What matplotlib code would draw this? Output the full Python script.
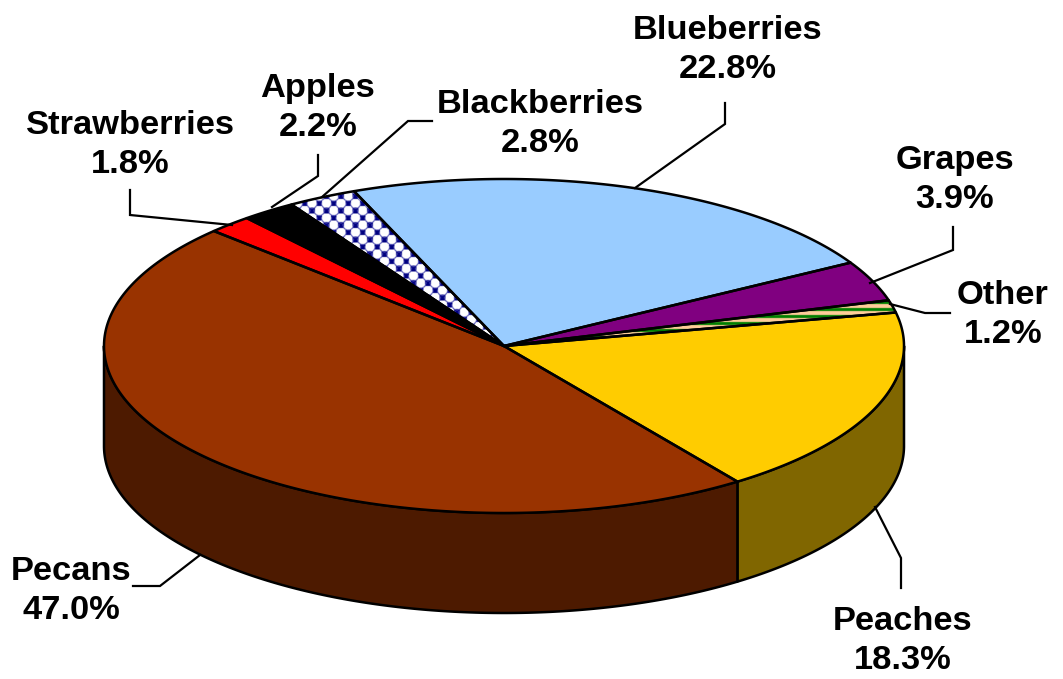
import numpy as np
import matplotlib
matplotlib.use("Agg")
import matplotlib.pyplot as plt
from matplotlib.patches import Polygon

# data, counter-clockwise from the Peaches slice
categories = ["Peaches", "Other", "Grapes", "Blueberries", "Blackberries", "Apples", "Strawberries", "Pecans"]
shares = [18.3, 1.2, 3.9, 22.8, 2.8, 2.2, 1.8, 47.0]

top_colors = {"Peaches": "#FFCC00", "Other": "#FFCC99", "Grapes": "#800080", "Blueberries": "#99CCFF",
              "Blackberries": "#FFFFFF", "Apples": "#000000", "Strawberries": "#FF0000", "Pecans": "#993300"}
side_colors = {"Peaches": "#806600", "Pecans": "#4D1A00"}

# layout in pixels
W, H = 1063, 679
CX, CY, RX, RY, DEPTH = 504, 346, 400, 167, 100
START = -54.3

label_pos = {"Peaches": (903, 641), "Other": (1003, 315), "Grapes": (955, 180), "Blueberries": (728, 50),
             "Blackberries": (540, 124), "Apples": (318, 108), "Strawberries": (130, 145), "Pecans": (71, 591)}
leaders = {"Peaches": [(875, 507), (901, 558), (901, 588)],
           "Other": [(890, 304), (925, 313), (950, 313)],
           "Grapes": [(870, 283), (953, 250), (953, 227)],
           "Blueberries": [(635, 188), (725, 124), (725, 103)],
           "Blackberries": [(322, 197), (408, 121), (432, 121)],
           "Apples": [(272, 207), (318, 176), (318, 155)],
           "Strawberries": [(232, 225), (130, 215), (130, 190)],
           "Pecans": [(200, 555), (160, 586), (133, 586)]}

fig = plt.figure(figsize=(W / 100, H / 100), dpi=100)
ax = fig.add_axes([0, 0, 1, 1])


def ell(a0, a1, dy=0.0, n=200):
    t = np.radians(np.linspace(a0, a1, n))
    return np.column_stack([CX + RX * np.cos(t), CY - RY * np.sin(t) + dy])


angles = START + np.concatenate([[0], np.cumsum(shares)]) * 3.6
spans = {c: (angles[i], angles[i + 1]) for i, c in enumerate(categories)}

# side walls: only the front half of the rim shows
for c in categories:
    a0, a1 = spans[c]
    if c not in side_colors:
        continue
    ranges = [(180, a1)] if c == "Pecans" else [(a0, 0)]
    for lo, hi in ranges:
        pts = np.vstack([ell(lo, hi), ell(lo, hi, DEPTH)[::-1]])
        ax.add_patch(Polygon(pts, closed=True, fc=side_colors[c], ec="black", lw=1.8, joinstyle="round", zorder=1))

# patterned fills
yy, xx = np.mgrid[0:H * 2, 0:W * 2] / 2.0
P = 14.5


def lattice(dx, dy):
    return ((xx + dx + P / 2) % P) - P / 2, ((yy + dy + P / 2) % P) - P / 2


tile = np.ones((H * 2, W * 2, 3))
navy = np.array([0, 0, 0.5])
for dx, dy in [(0, 0), (P / 2, P / 2)]:
    a, b = lattice(dx, dy)
    tile[(np.abs(a) < 3.0) & (np.abs(b) < 3.0)] = navy
for dx, dy in [(P / 2, 0), (0, P / 2)]:
    a, b = lattice(dx, dy)
    r = np.hypot(a, b)
    arc = (r > 4.6) & (r < 5.6) & (b > -1)
    tile[arc & ~((np.abs(a) > 4.6) & (np.abs(b) > 4.6))] = np.array([0.3, 0.3, 0.7])

stripe = np.ones((H * 2, W * 2, 3)) * np.array([1, 0.8, 0.6])
stripe[(yy % 7.0) < 3.0] = np.array([0, 0.5, 0])

for c in categories:
    a0, a1 = spans[c]
    pts = np.vstack([[(CX, CY)], ell(a0, a1)])
    patch = Polygon(pts, closed=True, fc=top_colors[c], ec="none", zorder=2)
    ax.add_patch(patch)
    if c in ("Blackberries", "Other"):
        im = ax.imshow(tile if c == "Blackberries" else stripe, extent=(0, W, H, 0), zorder=3,
                       interpolation="bilinear", aspect="auto")
        im.set_clip_path(patch)
    ax.add_patch(Polygon(pts, closed=True, fc="none", ec="black", lw=1.8, joinstyle="round", zorder=4))

# leader lines and labels
for c, s in zip(categories, shares):
    xs, ys = zip(*leaders[c])
    ax.plot(xs, ys, color="black", lw=1.6, zorder=5, solid_joinstyle="miter")
    ax.text(*label_pos[c], f"{c}\n{s:.1f}%", ha="center", va="center", family="Liberation Sans",
            weight="bold", fontsize=24.8, linespacing=1.37, color="black", zorder=6)

ax.set_xlim(0, W)
ax.set_ylim(H, 0)
ax.axis("off")
fig.savefig("out.png", dpi=100, facecolor="white")
